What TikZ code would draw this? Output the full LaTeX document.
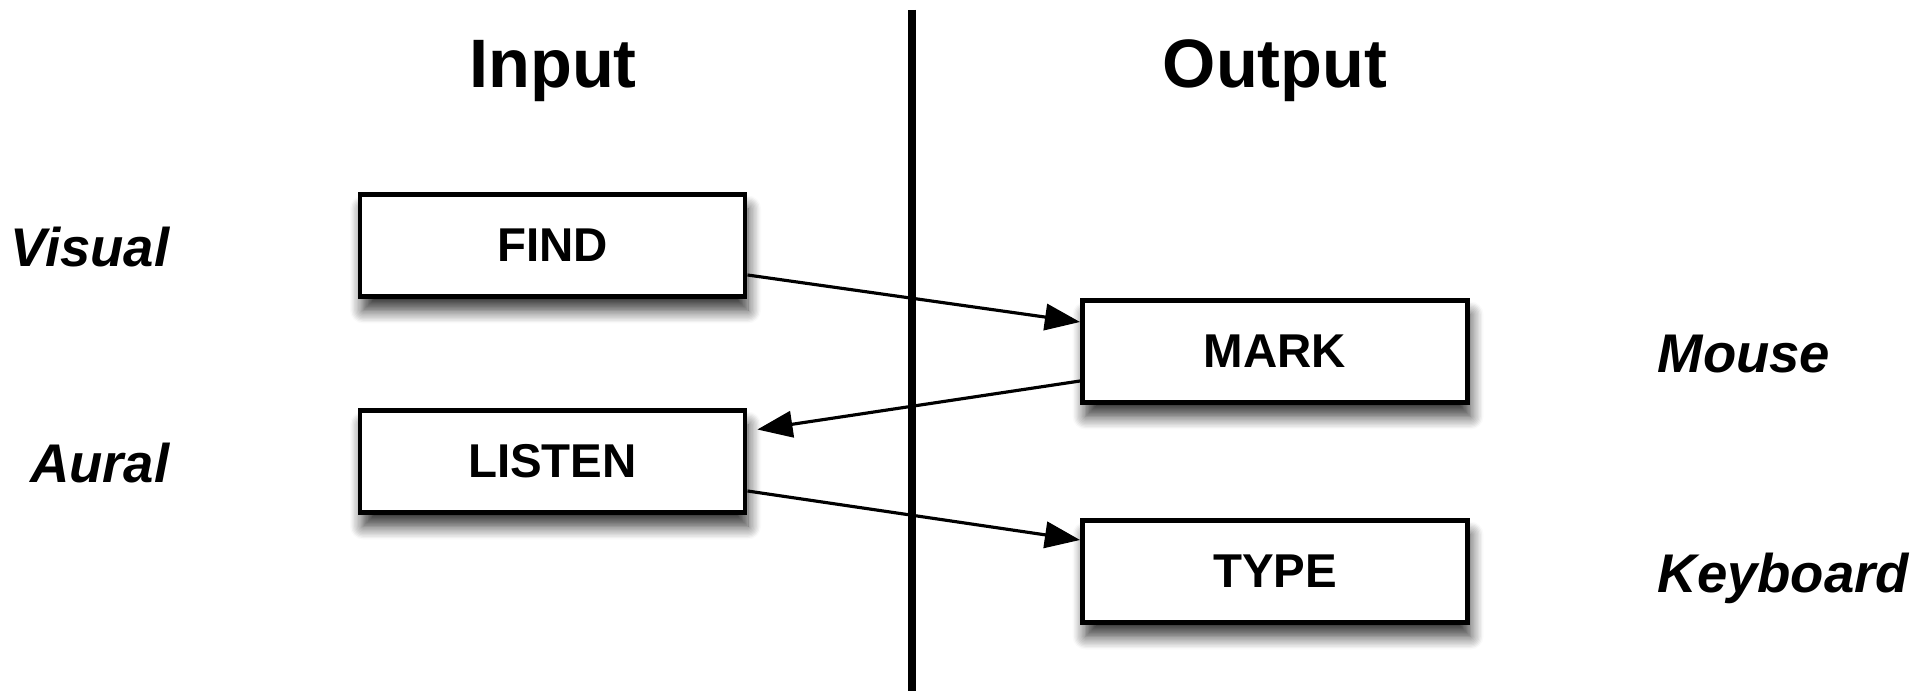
\documentclass[tikz,border=0pt]{standalone}
\usepackage{fontspec}
\setmainfont{Liberation Sans}
\usetikzlibrary{arrows.meta, shadows.blur}

\begin{document}
\begin{tikzpicture}[
  actbox/.style={draw, line width=1.4pt, fill=white, minimum width=3.85cm, minimum height=1.02cm, inner sep=0pt,
    font=\fontsize{13.5}{16}\selectfont\bfseries,
    blur shadow={shadow xshift=0.3mm, shadow yshift=-1.4mm, shadow blur radius=1.3mm, shadow blur steps=10, shadow opacity=80}},
  header/.style={font=\fontsize{19.5}{23}\selectfont\bfseries, anchor=base},
  sidelbl/.style={font=\fontsize{15.5}{18}\selectfont\bfseries\itshape, inner sep=0pt, yshift=-0.21cm},
  flow/.style={line width=0.9pt, -{Triangle[length=10pt,width=7.5pt]}}
]
\useasboundingbox (0,0) rectangle (19.32,-6.91);
% Draw the dividing line
\coordinate (divtop) at (9.12,-0.10);
\coordinate (divbot) at (9.12,-6.91);
\draw[line width=2.2pt] (divtop) -- (divbot);
% Column headers
\node[header] (input) at (5.53,-0.88) {Input};
\node[header] (output) at (12.75,-0.88) {Output};
% Input boxes
\node[actbox] (find) at (5.525,-2.455) {FIND};
\node[actbox] (listen) at (5.525,-4.615) {LISTEN};
% Output boxes
\node[actbox] (mark) at (12.75,-3.515) {MARK};
\node[actbox] (type) at (12.75,-5.715) {TYPE};
% Side labels
\coordinate (leftcol) at (1.70,0);
\coordinate (rightcol) at (16.57,0);
\node[sidelbl, anchor=base east] (visual) at (leftcol |- find) {Visual};
\node[sidelbl, anchor=base east] (aural) at (leftcol |- listen) {Aural};
\node[sidelbl, anchor=base west] (mouse) at (rightcol |- mark) {Mouse};
\node[sidelbl, anchor=base west] (keyboard) at (rightcol |- type) {Keyboard};
% Draw the arrows
\draw[flow] ([yshift=-0.295cm]find.east) -- ([yshift=0.295cm]mark.west);
\draw[flow, shorten >=0.1cm] ([yshift=-0.295cm]mark.west) -- ([yshift=0.305cm]listen.east);
\draw[flow] ([yshift=-0.295cm]listen.east) -- ([yshift=0.315cm]type.west);
\end{tikzpicture}
\end{document}
